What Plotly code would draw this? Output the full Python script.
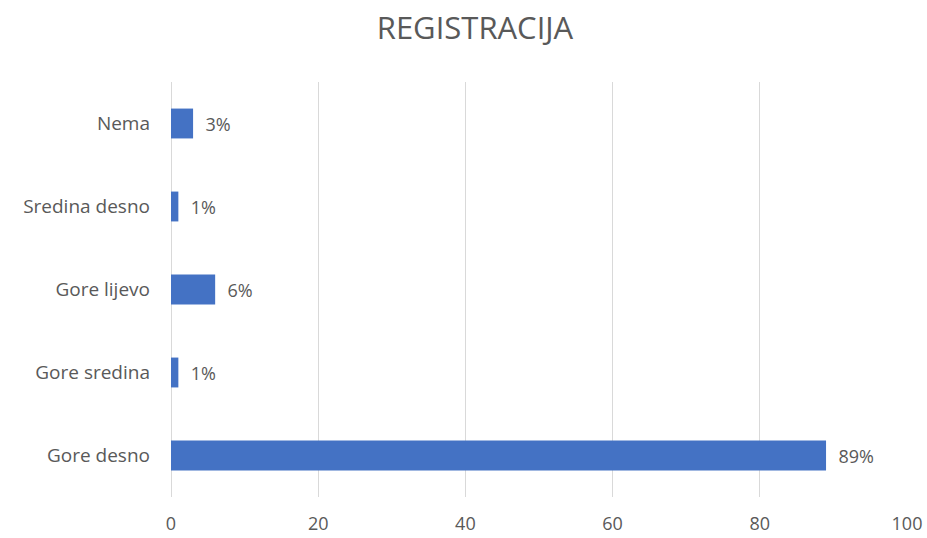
import plotly.graph_objects as go

categories = ["Gore desno", "Gore sredina", "Gore lijevo", "Sredina desno", "Nema"]
values = [89, 1, 6, 1, 3]
x_ticks = [0, 20, 40, 60, 80, 100]

FONT = "Open Sans, Liberation Sans, sans-serif"
GRAY = "#595959"

fig = go.Figure(go.Bar(
    y=categories,
    x=values,
    orientation="h",
    marker=dict(color="#4472C4", line=dict(width=0)),
    text=[f"  {v}%" for v in values],
    textposition="outside",
    textfont=dict(family=FONT, size=18, color=GRAY),
    cliponaxis=False,
    hoverinfo="skip",
))

fig.update_layout(
    width=927, height=538,
    margin=dict(l=171, r=20, t=82, b=41, autoexpand=False),
    paper_bgcolor="white", plot_bgcolor="white",
    bargap=0.64,
    title=dict(text="REGISTRACIJA", x=475 / 927, xref="container", xanchor="center",
               y=1 - 28 / 538, yref="container", yanchor="middle",
               font=dict(family=FONT, size=31, color=GRAY)),
    showlegend=False,
    xaxis=dict(range=[0, 100], tickvals=x_ticks, showgrid=True, gridcolor="#D9D9D9",
               gridwidth=1, zeroline=True, zerolinecolor="#D9D9D9", zerolinewidth=1,
               showline=False, automargin=False,
               tickfont=dict(family=FONT, size=18, color=GRAY), ticks="",
               ticklabelstandoff=14),
    yaxis=dict(showgrid=False, zeroline=False, showline=False, ticks="", automargin=False,
               tickfont=dict(family=FONT, size=19, color=GRAY),
               ticklabelstandoff=20),
)

fig.write_html(
    "out.html",
    config={"displayModeBar": False},
    post_script="document.body.style.margin='0';document.body.style.overflow='hidden';",
)
